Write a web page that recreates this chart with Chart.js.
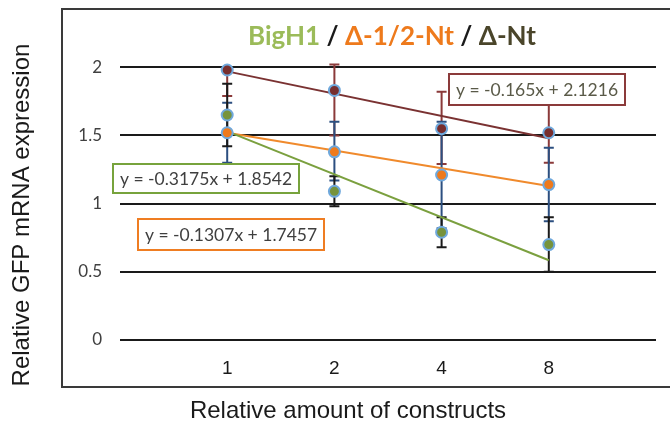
<!DOCTYPE html>
<html>
<head>
<meta charset="utf-8">
<script src="https://cdn.jsdelivr.net/npm/chart.js@4"></script>
<style>
  html, body { margin: 0; padding: 0; background: #fff; }
  #c { display: block; }
</style>
</head>
<body>
<canvas id="c" width="670" height="430"></canvas>
<script>
// category labels (x positions 1..4 on a linear axis)
const categories = ['1', '2', '4', '8'];
const xPos = [1, 2, 3, 4];

// mean values
const bigH1 = [1.65, 1.09, 0.79, 0.70];
const halfNt = [1.52, 1.38, 1.21, 1.14];
const deltaNt = [1.98, 1.83, 1.55, 1.52];

// error bar ends (low / high)
const bigH1Low = [1.42, 0.98, 0.68, 0.50];
const bigH1High = [1.88, 1.20, 0.90, 0.90];
const halfNtLow = [1.30, 1.17, 0.82, 0.87];
const halfNtHigh = [1.74, 1.60, 1.60, 1.41];
const deltaNtLow = [1.79, 1.50, 1.29, 1.30];
const deltaNtHigh = [1.98, 2.02, 1.82, 1.75];

// linear trendlines, endpoints at x = 1 and x = 4
const trendX = [1, 4];
const bigH1Trend = [1.53, 0.585];
const halfNtTrend = [1.52, 1.13];
const deltaNtTrend = [1.97, 1.48];

const yTicks = [0, 0.5, 1, 1.5, 2];

const GREEN = '#77933c', ORANGE = '#ee7a1c', BROWN = '#772e2e';
const MARK_EDGE = '#6fa8dc';

const pts = (ys, xs = xPos) => ys.map((y, i) => ({ x: xs[i], y }));

const errorSets = [
  { low: deltaNtLow, high: deltaNtHigh, color: '#8b3a3a' },
  { low: halfNtLow, high: halfNtHigh, color: '#2c4f80' },
  { low: bigH1Low, high: bigH1High, color: '#1a1a1a' },
];

const eqBoxes = [
  { text: 'y = -0.165x + 2.1216', x: 449, y: 74, w: 176, h: 31, border: '#8b3a3a', color: '#5a5a48' },
  { text: 'y = -0.3175x + 1.8542', x: 113, y: 164, w: 186, h: 29, border: '#77a33c', color: '#3f3f3f' },
  { text: 'y = -0.1307x + 1.7457', x: 138, y: 219, w: 186, h: 31, border: '#ef7d22', color: '#3f3f3f' },
];

const decor = {
  id: 'decor',
  beforeDraw(chart) {
    const ctx = chart.ctx;
    ctx.save();
    ctx.strokeStyle = '#3a3a3a';
    ctx.lineWidth = 2;
    ctx.beginPath();
    ctx.moveTo(672, 9);
    ctx.lineTo(62, 9);
    ctx.lineTo(62, 387);
    ctx.lineTo(672, 387);
    ctx.stroke();
    ctx.restore();
  },
  beforeDatasetsDraw(chart) {
    const ctx = chart.ctx;
    const xs = chart.scales.x, ys = chart.scales.y;
    ctx.save();
    ctx.lineWidth = 2;
    for (const e of errorSets) {
      ctx.strokeStyle = e.color;
      xPos.forEach((xv, i) => {
        const px = xs.getPixelForValue(xv);
        const lo = ys.getPixelForValue(e.low[i]);
        const hi = ys.getPixelForValue(e.high[i]);
        ctx.beginPath();
        ctx.moveTo(px, lo); ctx.lineTo(px, hi);
        ctx.moveTo(px - 5, lo); ctx.lineTo(px + 5, lo);
        ctx.moveTo(px - 5, hi); ctx.lineTo(px + 5, hi);
        ctx.stroke();
      });
    }
    ctx.restore();
  },
  afterDraw(chart) {
    const ctx = chart.ctx;
    ctx.save();
    // title in three colours
    ctx.font = 'bold 26px Lato, "Open Sans", sans-serif';
    ctx.textBaseline = 'middle';
    const parts = [
      ['BigH1', '#9bbb59'], [' / ', '#1a1a1a'], ['\u0394-1/2-Nt', '#ee7a1c'],
      [' / ', '#1a1a1a'], ['\u0394-Nt', '#4a452a'],
    ];
    const total = parts.reduce((s, p) => s + ctx.measureText(p[0]).width, 0);
    let tx = 392 - total / 2;
    for (const [t, c] of parts) {
      ctx.fillStyle = c;
      ctx.fillText(t, tx, 37);
      tx += ctx.measureText(t).width;
    }

    // axis titles
    ctx.fillStyle = '#1a1a1a';
    ctx.font = '24px "Liberation Sans", Arial, sans-serif';
    ctx.textAlign = 'center';
    ctx.fillText('Relative amount of constructs', 348, 411);
    ctx.save();
    ctx.translate(22, 215);
    ctx.rotate(-Math.PI / 2);
    ctx.fillText('Relative GFP mRNA expression', 0, 0);
    ctx.restore();

    // trendline equation boxes
    ctx.font = '17.5px Lato, "Open Sans", sans-serif';
    ctx.lineWidth = 2;
    for (const b of eqBoxes) {
      ctx.fillStyle = '#fff';
      ctx.fillRect(b.x, b.y, b.w, b.h);
      ctx.strokeStyle = b.border;
      ctx.strokeRect(b.x, b.y, b.w, b.h);
      ctx.fillStyle = b.color;
      ctx.fillText(b.text, b.x + b.w / 2, b.y + b.h / 2 + 1);
    }
    ctx.restore();
  },
};

const pointDs = (label, data, color) => ({
  type: 'scatter',
  label,
  data: pts(data),
  backgroundColor: color,
  borderColor: MARK_EDGE,
  pointRadius: 5.5,
  pointBorderWidth: 2,
  order: 1,
});

const trendDs = (label, data, color) => ({
  type: 'line',
  label,
  data: pts(data, trendX),
  borderColor: color,
  borderWidth: 2,
  pointRadius: 0,
  fill: false,
  order: 2,
});

new Chart(document.getElementById('c'), {
  type: 'scatter',
  data: {
    datasets: [
      trendDs('BigH1 trend', bigH1Trend, '#7ba03f'),
      trendDs('Δ-1/2-Nt trend', halfNtTrend, '#f08a2c'),
      trendDs('Δ-Nt trend', deltaNtTrend, '#7a3232'),
      pointDs('Δ-Nt', deltaNt, BROWN),
      pointDs('Δ-1/2-Nt', halfNt, ORANGE),
      pointDs('BigH1', bigH1, GREEN),
    ],
  },
  options: {
    responsive: false,
    animation: false,
    events: [],
    layout: { padding: { top: 40, right: 14, left: 0, bottom: 0 } },
    plugins: { legend: { display: false }, tooltip: { enabled: false } },
    scales: {
      x: {
        type: 'linear',
        min: 0,
        max: 5,
        afterBuildTicks: (s) => { s.ticks = xPos.map(v => ({ value: v })); },
        afterFit: (s) => { s.height = 90; },
        grid: { display: false, drawTicks: false },
        border: { display: false },
        ticks: {
          padding: 17,
          color: '#1a1a1a',
          font: { family: '"Liberation Sans", Arial, sans-serif', size: 19 },
          callback: (v) => categories[xPos.indexOf(v)] ?? '',
        },
      },
      y: {
        min: 0,
        max: 2.2,
        afterBuildTicks: (s) => { s.ticks = yTicks.map(v => ({ value: v })); },
        afterFit: (s) => { s.width = 120; },
        grid: { color: '#1a1a1a', lineWidth: 2, drawTicks: false },
        border: { display: false },
        ticks: {
          padding: 18,
          color: '#404040',
          font: { family: 'Lato, "Open Sans", sans-serif', size: 17 },
          callback: (v) => String(v),
        },
      },
    },
  },
  plugins: [decor],
});
</script>
</body>
</html>
